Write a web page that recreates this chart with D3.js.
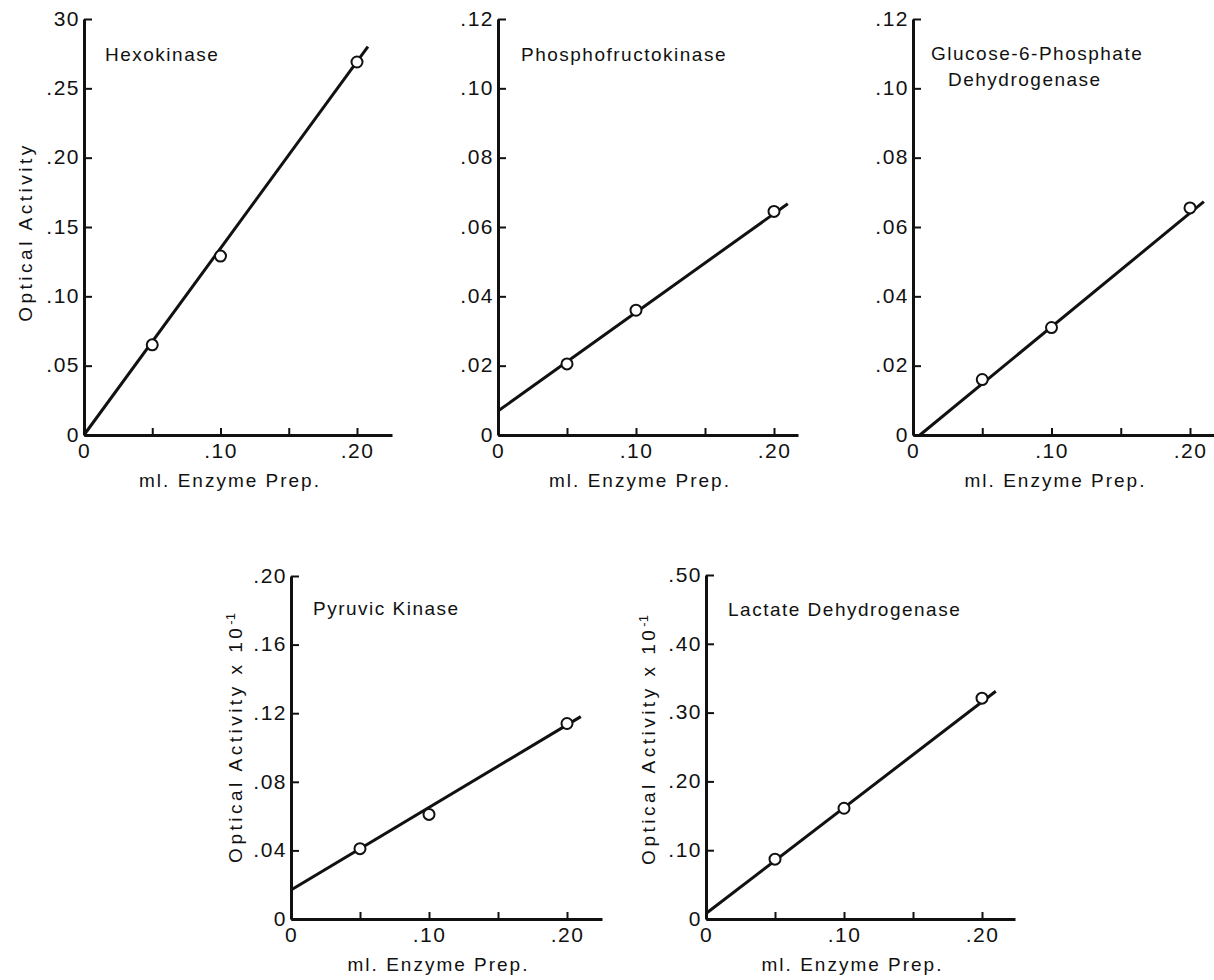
<!DOCTYPE html>
<html>
<head>
<meta charset="utf-8">
<script src="https://cdn.jsdelivr.net/npm/d3@7"></script>
<style>
  body { margin: 0; background: #fff; }
  text { font-family: "Liberation Sans", Arial, sans-serif; fill: #111; }
</style>
</head>
<body>
<div id="chart"></div>
<script>
// Data
const enzymeVolumes = [0.05, 0.10, 0.20];
const hexokinase = [0.065, 0.129, 0.269];
const phosphofructokinase = [0.0205, 0.036, 0.0645];
const g6pDehydrogenase = [0.016, 0.031, 0.0655];
const pyruvicKinase = [0.041, 0.061, 0.114];
const lactateDehydrogenase = [0.087, 0.161, 0.321];

// fitted lines drawn by hand: [xStart, yStart, xEnd, yEnd]
const fitLines = [
  [0, 0, 0.208, 0.28],
  [0, 0.0069, 0.21, 0.0667],
  [0.005, 0, 0.21, 0.0673],
  [0, 0.0169, 0.21, 0.118],
  [0, 0.008, 0.21, 0.331]
];

const panelTitles = [
  ["Hexokinase"],
  ["Phosphofructokinase"],
  ["Glucose-6-Phosphate", "Dehydrogenase"],
  ["Pyruvic Kinase"],
  ["Lactate Dehydrogenase"]
];

const yMaxima = [0.30, 0.12, 0.12, 0.20, 0.50];
const yTicks = [
  [0, 0.05, 0.10, 0.15, 0.20, 0.25, 0.30],
  [0, 0.02, 0.04, 0.06, 0.08, 0.10, 0.12],
  [0, 0.02, 0.04, 0.06, 0.08, 0.10, 0.12],
  [0, 0.04, 0.08, 0.12, 0.16, 0.20],
  [0, 0.10, 0.20, 0.30, 0.40, 0.50]
];
const yTickLabels = [
  ["0", ".05", ".10", ".15", ".20", ".25", "30"],
  ["0", ".02", ".04", ".06", ".08", ".10", ".12"],
  ["0", ".02", ".04", ".06", ".08", ".10", ".12"],
  ["0", ".04", ".08", ".12", ".16", ".20"],
  ["0", ".10", ".20", ".30", ".40", ".50"]
];
const xTicks = [0, 0.05, 0.10, 0.15, 0.20];
const xTickLabels = ["0", "", ".10", "", ".20"];
const yTitles = ["Optical Activity", null, null, "Optical Activity x 10", "Optical Activity x 10"];
const xTitle = "ml. Enzyme Prep.";

const series = [hexokinase, phosphofructokinase, g6pDehydrogenase, pyruvicKinase, lactateDehydrogenase];

// Pixel layout of each panel
const layout = [
  { x0: 84, x20: 357, xEnd: 392, top: 19, bottom: 435, title: [105, 61], yTitle: [25, 232] },
  { x0: 498, x20: 774, xEnd: 798, top: 19, bottom: 435, title: [521, 61] },
  { x0: 913, x20: 1190, xEnd: 1214, top: 19, bottom: 435, title: [931, 60], title2: [948, 86] },
  { x0: 291, x20: 567, xEnd: 602, top: 576, bottom: 919, title: [313, 615], yTitle: [235, 738] },
  { x0: 706, x20: 982, xEnd: 1015, top: 575, bottom: 919, title: [728, 616], yTitle: [648, 740] }
];

const svg = d3.select("#chart")
  .append("svg")
  .attr("width", 1214)
  .attr("height", 980);

series.forEach((values, i) => {
  const L = layout[i];
  const g = svg.append("g");

  const xScale = d3.scaleLinear().domain([0, 0.2]).range([L.x0, L.x20]);
  const xAxisScale = xScale.copy().domain([0, xScale.invert(L.xEnd)]).range([L.x0, L.xEnd]);
  const yScale = d3.scaleLinear().domain([0, yMaxima[i]]).range([L.bottom, L.top]);

  // x axis
  const xa = g.append("g")
    .attr("transform", `translate(0,${L.bottom})`)
    .call(d3.axisBottom(xAxisScale)
      .tickValues(xTicks)
      .tickFormat((d, j) => xTickLabels[j])
      .tickSizeInner(-7)
      .tickSizeOuter(0)
      .tickPadding(8));

  // y axis
  const ya = g.append("g")
    .attr("transform", `translate(${L.x0},0)`)
    .call(d3.axisLeft(yScale)
      .tickValues(yTicks[i])
      .tickFormat((d, j) => yTickLabels[i][j])
      .tickSizeInner(-8)
      .tickSizeOuter(0)
      .tickPadding(4));

  [xa, ya].forEach(a => {
    a.attr("font-size", null).attr("font-family", null);
    a.select(".domain").attr("stroke", "#111").attr("stroke-width", 3);
    a.selectAll(".tick line").attr("stroke", "#111").attr("stroke-width", 2);
    a.selectAll(".tick text")
      .attr("fill", "#111")
      .style("font-size", "21px")
      .style("letter-spacing", "1.5px");
  });
  ya.selectAll(".tick text").attr("dy", "0.3em");

  // fitted line
  const f = fitLines[i];
  g.append("line")
    .attr("x1", xScale(f[0]))
    .attr("y1", yScale(f[1]))
    .attr("x2", xScale(f[2]))
    .attr("y2", yScale(f[3]))
    .attr("stroke", "#111")
    .attr("stroke-width", 3);

  // data points
  g.selectAll("circle")
    .data(values)
    .join("circle")
    .attr("cx", (d, j) => xScale(enzymeVolumes[j]))
    .attr("cy", d => yScale(d))
    .attr("r", 5.5)
    .attr("fill", "#fff")
    .attr("stroke", "#111")
    .attr("stroke-width", 2);

  // panel title
  g.append("text")
    .attr("x", L.title[0])
    .attr("y", L.title[1])
    .style("font-size", "19px")
    .style("letter-spacing", "1.5px")
    .text(panelTitles[i][0]);
  if (panelTitles[i][1]) {
    g.append("text")
      .attr("x", L.title2[0])
      .attr("y", L.title2[1])
      .style("font-size", "19px")
      .style("letter-spacing", "1.5px")
      .text(panelTitles[i][1]);
  }

  // x title
  g.append("text")
    .attr("x", (L.x0 + L.xEnd) / 2 - 8)
    .attr("y", L.bottom + 52)
    .attr("text-anchor", "middle")
    .style("font-size", "19px")
    .style("letter-spacing", "2px")
    .text(xTitle);

  // y title
  if (yTitles[i]) {
    const t = g.append("text")
      .attr("transform", `translate(${L.yTitle[0]},${L.yTitle[1]}) rotate(-90)`)
      .attr("text-anchor", "middle")
      .attr("dy", "0.35em")
      .style("font-size", "19px")
      .style("letter-spacing", "3.5px")
      .text(yTitles[i]);
    if (i > 0) {
      t.append("tspan")
        .attr("baseline-shift", "super")
        .style("font-size", "13px")
        .style("letter-spacing", "0px")
        .text("-1");
    }
  }
});
</script>
</body>
</html>
